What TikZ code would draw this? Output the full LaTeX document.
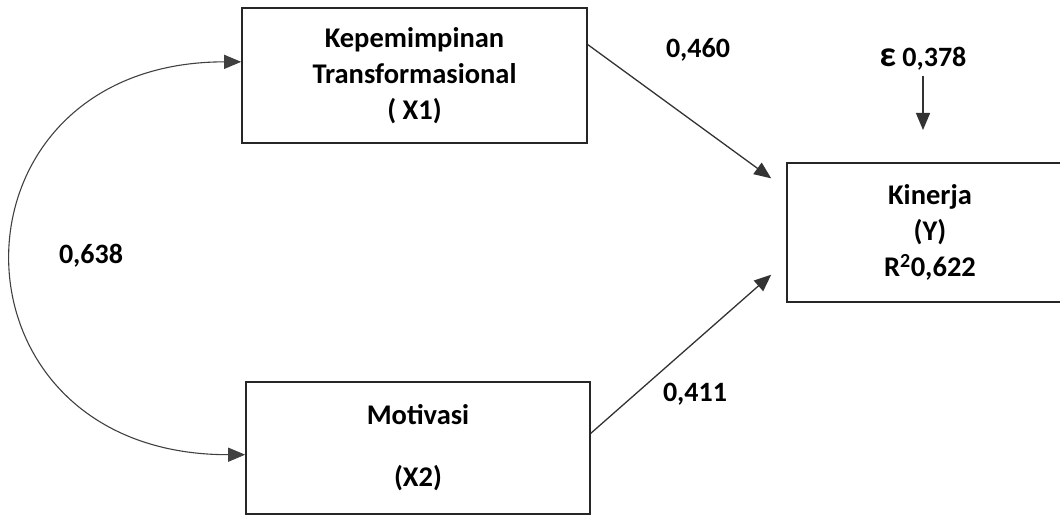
\documentclass[tikz,border=0pt]{standalone}
\usepackage{fontspec}
\setmainfont{Carlito}
\usetikzlibrary{arrows.meta,positioning,calc}
\tikzset{
    block/.style={
        draw=black!85,
        line width=1.6pt,
        rectangle,
        inner sep=0pt,
        align=center,
        font=\bfseries\fontsize{28.5}{36}\selectfont
    },
    coef/.style={
        inner sep=1pt,
        font=\bfseries\fontsize{28}{36}\selectfont
    },
    path_arrow/.style={
        draw=black!80,
        line width=1.3pt,
        -{Triangle[length=17pt,width=14pt]}
    },
    corr_arrow/.style={
        draw=black!75,
        line width=1.1pt,
        {Triangle[length=17pt,width=14pt]}-{Triangle[length=17pt,width=14pt]}
    },
}

\begin{document}
\begin{tikzpicture}[x=1pt, y=-1pt]
    \clip (0,0) rectangle (1060,516);
    % blocks
    \node[block, minimum width=345pt, minimum height=135pt] (X1) at (414.5,75.5) {Kepemimpinan\\Transformasional\\( X1)};
    \node[block, minimum width=344pt, minimum height=132pt] (X2) at (418,448) {Motivasi\\[26pt](X2)};
    \node[block, minimum width=286pt, minimum height=139pt] (Y) at (930,232.5) {Kinerja\\(Y)\\R\textsuperscript{2}0,622};
    % coefficients
    \node[coef] (b1) at (698,50) {0,460};
    \node[coef] (b2) at (695,394) {0,411};
    \node[coef] (r12) at (91,256) {0,638};
    \node[coef] (eps) at (923,59) {{\fontsize{36}{36}\selectfont ε} 0,378};
    % input and output coordinates
    \coordinate[] (outX1) at ($(X1.north east)!0.274!(X1.south east)$);
    \coordinate[] (outX2) at ($(X2.north east)!0.39!(X2.south east)$);
    \coordinate[] (inY1) at ($(Y.north west)!0.115!(Y.south west)+(-15,0)$);
    \coordinate[] (inY2) at ($(Y.north west)!0.8!(Y.south west)+(-15,0)$);
    \coordinate[] (corrX1) at ($(X1.north west)!0.4!(X1.south west)$);
    \coordinate[] (corrX2) at ($(X2.north west)!0.55!(X2.south west)$);
    \coordinate[] (epsend) at (923,130);

    % lines
    \draw[path_arrow] (eps.south) ++(0,4) -- (epsend);
    \draw[path_arrow] (outX1) -- (inY1);
    \draw[path_arrow] (outX2) -- (inY2);
    \draw[corr_arrow] (corrX2) .. controls (-64,455) and (-64,62) .. (corrX1);
\end{tikzpicture}
\end{document}
